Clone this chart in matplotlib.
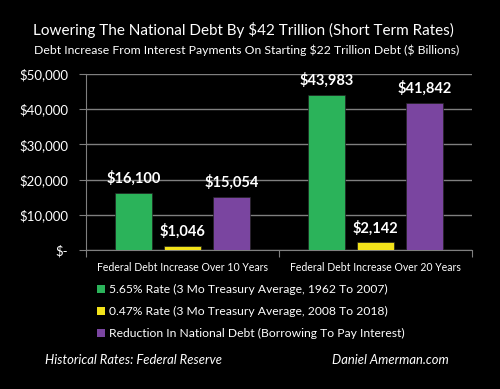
import matplotlib.pyplot as plt
from matplotlib.patches import Rectangle

categories = ["Federal Debt Increase Over 10 Years", "Federal Debt Increase Over 20 Years"]
series_names = ["5.65% Rate (3 Mo Treasury Average, 1962 To 2007)",
                "0.47% Rate (3 Mo Treasury Average, 2008 To 2018)",
                "Reduction In National Debt (Borrowing To Pay Interest)"]
high_rate = [16100, 43983]
low_rate = [1046, 2142]
reduction = [15054, 41842]
colors = ["#2bb35a", "#f2e21a", "#7a45a0"]
yticks = [0, 10000, 20000, 30000, 40000, 50000]
ytick_labels = ["$-", "$10,000", "$20,000", "$30,000", "$40,000", "$50,000"]

plt.rcParams['font.family'] = ['Lato', 'DejaVu Sans']
plt.rcParams['text.parse_math'] = False

fig = plt.figure(figsize=(5, 3.89), dpi=100, facecolor='black')
ax = fig.add_axes([86/500, 1-250/389, 386/500, 176/389])
ax.set_facecolor('black')

offsets = [-0.254, 0, 0.254]
width = 0.19
for vals, off, col in zip([high_rate, low_rate, reduction], offsets, colors):
    xs = [i + off for i in range(len(categories))]
    bars = ax.bar(xs, vals, width, color=col, edgecolor='#222222', linewidth=0.5, zorder=3)
    for b, v in zip(bars, vals):
        ax.text(b.get_x() + b.get_width()/2, v + 2000, "${:,}".format(v),
                ha='center', va='bottom', color='white', fontsize=10.5, fontweight='bold')

ax.set_xlim(-0.5, 1.5)
ax.set_ylim(0, 50000)
ax.set_yticks(yticks)
ax.set_yticklabels(ytick_labels, color='white', fontsize=9.5)
ax.yaxis.grid(True, color='#7f7f7f', linewidth=1, zorder=0)
ax.tick_params(axis='y', length=5, color='#7f7f7f', pad=8)
ax.set_xticks([-0.5, 0.5, 1.5])
ax.set_xticklabels([])
ax.tick_params(axis='x', length=5, color='#7f7f7f')
for i, c in enumerate(categories):
    ax.text(i, -3400, c, ha='center', va='top', color='white', fontsize=7.6)
for s in ['top', 'right']:
    ax.spines[s].set_visible(False)
for s in ['left', 'bottom']:
    ax.spines[s].set_color('#7f7f7f')

fig.text(243/500, 1-30/389, "Lowering The National Debt By $42 Trillion (Short Term Rates)",
         ha='center', va='center', color='white', fontsize=11)
fig.text(247/500, 1-50/389, "Debt Increase From Interest Payments On Starting $22 Trillion Debt ($ Billions)",
         ha='center', va='center', color='white', fontsize=8.8)

for k, (name, col) in enumerate(zip(series_names, colors)):
    y = 1 - (289 + 22*k)/389
    fig.patches.append(Rectangle((97/500, y - 4/389), 8/500, 8/389, transform=fig.transFigure,
                                 facecolor=col, edgecolor='none'))
    fig.text(109/500, y, name, ha='left', va='center', color='white', fontsize=8.7)

fig.text(45/500, 1-360/389, "Historical Rates: Federal Reserve", ha='left', va='center',
         color='white', fontsize=9.4, style='italic')
fig.text(449/500, 1-360/389, "Daniel Amerman.com", ha='right', va='center',
         color='white', fontsize=9.4, style='italic')

fig.savefig('out.png', dpi=100, facecolor='black')
